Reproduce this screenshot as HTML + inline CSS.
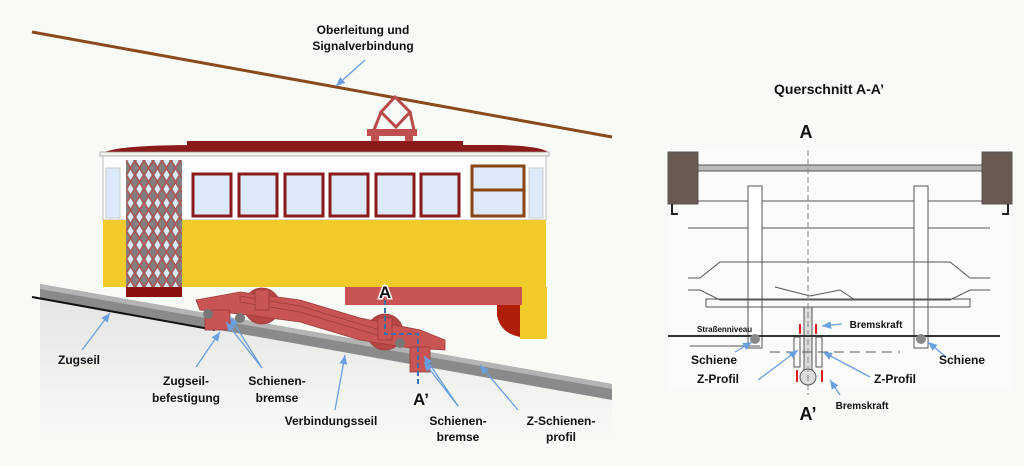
<!DOCTYPE html>
<html><head><meta charset="utf-8"><style>
html,body{margin:0;padding:0;background:#f7faf5;}
svg{display:block;}
text{font-family:"Liberation Sans","DejaVu Sans",sans-serif;font-weight:bold;fill:#111;}
</style></head><body>
<svg width="1024" height="466" viewBox="0 0 1024 466" xmlns="http://www.w3.org/2000/svg">
<defs>
<linearGradient id="gnd" x1="0" y1="0" x2="0" y2="1"><stop offset="0" stop-color="#dcdcdc"/><stop offset="1" stop-color="#f7faf5"/></linearGradient>
<marker id="ar" markerWidth="8" markerHeight="8" refX="7" refY="4" orient="auto"><path d="M0,1 L7,4 L0,7 z" fill="#6a9fe0"/></marker>
<pattern id="lat" width="9" height="14" patternUnits="userSpaceOnUse"><rect width="9" height="14" fill="#808080"/><path d="M4.5,2 L7.5,7 L4.5,12 L1.5,7 z" fill="#dbe9f8"/><path d="M4.5,0 L9,7 L4.5,14 L0,7 z" fill="none" stroke="#c04848" stroke-width="1.1"/></pattern>
</defs>
<rect width="1024" height="466" fill="#f7faf5"/>
<!-- ground -->
<path d="M40,292 L612,392 L612,440 L40,440 z" fill="url(#gnd)" opacity="0.7"/>
<!-- rail -->
<path d="M40,284 L612,384 L612,400 L40,298 z" fill="#8a8a8a"/>
<path d="M40,284 L612,384 L612,389 L40,289 z" fill="#b4b4b4"/>
<line x1="32" y1="297" x2="215" y2="330" stroke="#111" stroke-width="2"/>
<!-- overhead wire -->
<line x1="32" y1="32" x2="612" y2="137" stroke="#8b4a1c" stroke-width="3"/>
<!-- pantograph -->
<path d="M381,112 L395,97 L410,112 L396,127 z" fill="none" stroke="#b84a4a" stroke-width="3"/>
<path d="M381,112 L374,130 M410,112 L414,130" stroke="#b84a4a" stroke-width="3"/>
<rect x="367" y="129" width="50" height="7" fill="#c05050"/>
<rect x="371" y="136" width="8" height="9" fill="#c05050"/><rect x="405" y="136" width="8" height="9" fill="#c05050"/>
<!-- roof -->
<rect x="187" y="141" width="276" height="5" fill="#8b1a1a"/>
<path d="M105,152 Q120,145 200,145 L500,145 Q540,146 548,152 z" fill="#8b1a1a"/>
<rect x="100" y="152" width="449" height="4" fill="#f4f2ee" stroke="#999" stroke-width="0.7"/>
<!-- body -->
<rect x="103" y="156" width="443" height="64" fill="#fdfdfd" stroke="#aaa" stroke-width="0.8"/>
<rect x="103" y="220" width="443" height="67" fill="#f0cb2a"/>
<rect x="520" y="287" width="27" height="52" fill="#f0cb2a"/>
<rect x="345" y="287" width="177" height="18" fill="#c85454"/>
<path d="M497,305 L520,305 L520,337 Q500,333 497,315 z" fill="#b01e0a"/>
<rect x="106" y="168" width="14" height="50" fill="#dbe9f8" stroke="#ccc"/>
<rect x="529" y="168" width="14" height="50" fill="#dbe9f8" stroke="#ccc"/>
<rect x="126" y="160" width="56" height="137" fill="url(#lat)"/>
<rect x="126" y="287" width="56" height="10" fill="#8b1010"/>
<g fill="#dbe9f8" stroke="#8b1a1a" stroke-width="3">
<rect x="193" y="174" width="38" height="42"/>
<rect x="239" y="174" width="38" height="42"/>
<rect x="285" y="174" width="38" height="42"/>
<rect x="330" y="174" width="38" height="42"/>
<rect x="376" y="174" width="38" height="42"/>
<rect x="421" y="174" width="38" height="42"/>
</g>
<rect x="472" y="166" width="52" height="50" fill="#dbe9f8" stroke="#8b4513" stroke-width="3"/>
<line x1="472" y1="190" x2="524" y2="190" stroke="#8b4513" stroke-width="3"/>
<!-- bogie -->
<g fill="#c85454" stroke="#9c3a3a" stroke-width="0.8">
<circle cx="262" cy="306" r="18" fill="#b84646"/>
<circle cx="385" cy="332" r="18" fill="#b84646"/>
<path d="M196,300 L240,292 L300,300 L360,318 L420,330 L445,340 L445,350 L410,348 L360,340 L300,322 L240,314 L200,310 z"/>
<path d="M240,296 L300,306 L380,330 L380,336 L300,312 L240,302 z"/>
<rect x="205" y="310" width="25" height="20"/>
<rect x="410" y="347" width="20" height="25"/>
<rect x="255" y="290" width="14" height="20"/><rect x="378" y="318" width="14" height="22"/>
</g>
<circle cx="208" cy="314" r="5" fill="#777"/><circle cx="240" cy="318" r="5" fill="#777"/>
<circle cx="400" cy="343" r="5" fill="#777"/>
<path d="M385,300 V334 H418 V385" fill="none" stroke="#3a6fa8" stroke-width="2" stroke-dasharray="5,3"/>
<text x="385" y="298" font-size="17" text-anchor="middle" font-weight="normal" stroke="#fff" stroke-width="3" paint-order="stroke">A</text>
<text x="421" y="405" font-size="17" text-anchor="middle" font-weight="normal" stroke="#fff" stroke-width="3" paint-order="stroke">A’</text>
<g stroke="#6a9fe0" stroke-width="1.3" fill="none" marker-end="url(#ar)">
<line x1="365" y1="60" x2="336" y2="86"/>
<line x1="82" y1="350" x2="110" y2="313"/>
<line x1="196" y1="367" x2="220" y2="332"/>
<line x1="262" y1="368" x2="226" y2="322"/>
<line x1="262" y1="368" x2="230" y2="317"/>
<line x1="335" y1="410" x2="345" y2="355"/>
<line x1="458" y1="406" x2="424" y2="362"/>
<line x1="458" y1="406" x2="424" y2="356"/>
<line x1="518" y1="410" x2="480" y2="365"/>
</g>
<g font-size="12" text-anchor="middle">
<text x="363" y="34">Oberleitung und</text>
<text x="363" y="50">Signalverbindung</text>
<text x="79" y="364">Zugseil</text>
<text x="186" y="385">Zugseil-</text>
<text x="186" y="402">befestigung</text>
<text x="277" y="385">Schienen-</text>
<text x="277" y="402">bremse</text>
<text x="331" y="425">Verbindungsseil</text>
<text x="458" y="425">Schienen-</text>
<text x="458" y="441">bremse</text>
<text x="561" y="425">Z-Schienen-</text>
<text x="561" y="441">profil</text>
</g>
<!-- RIGHT -->
<text x="829" y="94" font-size="14" text-anchor="middle">Querschnitt A-A’</text>
<text x="806" y="138" font-size="18" text-anchor="middle" font-weight="normal">A</text>
<rect x="668" y="150" width="344" height="240" fill="#fbfbfa"/>
<g stroke="#555" stroke-width="1" fill="none">
<rect x="668" y="165" width="344" height="6" fill="#bbb"/>
<rect x="668" y="152" width="30" height="52" fill="#6a5a52"/>
<rect x="982" y="152" width="30" height="52" fill="#6a5a52"/>
<path d="M672,204 V214 H678 M1008,204 V214 H1002" stroke="#222" stroke-width="2"/>
<line x1="698" y1="201" x2="982" y2="201"/>
<line x1="688" y1="228" x2="990" y2="228"/>
<rect x="748" y="186" width="14" height="162" fill="#fff"/>
<rect x="914" y="186" width="14" height="162" fill="#fff"/>
<path d="M688,278 L700,278 L720,262 L950,262 L970,278 L990,278 M688,290 L700,290 L720,300 L950,300 L970,290 L990,290"/>
<rect x="706" y="299" width="264" height="8"/>
<path d="M775,287 L810,296 L840,290 L855,300"/>
<rect x="804" y="307" width="8" height="70" fill="#ddd"/>
<rect x="794" y="337" width="6" height="30"/><rect x="816" y="337" width="6" height="30"/>
<circle cx="808" cy="377" r="8" fill="#ddd"/>
<line x1="690" y1="346" x2="760" y2="346"/>
<line x1="770" y1="352" x2="900" y2="352" stroke-dasharray="10,6"/>
</g>
<line x1="668" y1="336" x2="1000" y2="336" stroke="#333" stroke-width="2"/>
<line x1="808" y1="150" x2="808" y2="395" stroke="#888" stroke-dasharray="6,3"/>
<circle cx="755" cy="339" r="5" fill="#888"/><circle cx="921" cy="339" r="5" fill="#888"/>
<g stroke="#e02020" stroke-width="2" fill="#e02020">
<line x1="800" y1="324" x2="800" y2="334"/><line x1="816" y1="324" x2="816" y2="334"/>
<line x1="797" y1="382" x2="797" y2="370"/><line x1="822" y1="382" x2="822" y2="370"/>
</g>
<g stroke="#6a9fe0" stroke-width="1.3" fill="none" marker-end="url(#ar)">
<line x1="842" y1="324" x2="822" y2="326"/>
<line x1="735" y1="352" x2="752" y2="342"/>
<line x1="946" y1="357" x2="928" y2="342"/>
<line x1="758" y1="380" x2="798" y2="350"/>
<line x1="870" y1="377" x2="823" y2="352"/>
<line x1="840" y1="395" x2="830" y2="380"/>
</g>
<g font-size="12" text-anchor="middle">
<text x="876" y="328" font-size="10">Bremskraft</text>
<text x="697" y="332" font-size="8" text-anchor="start">Straßenniveau</text>
<text x="714" y="364">Schiene</text>
<text x="962" y="364">Schiene</text>
<text x="718" y="383">Z-Profil</text>
<text x="895" y="383">Z-Profil</text>
<text x="862" y="409" font-size="10">Bremskraft</text>
</g>
<text x="808" y="420" font-size="18" text-anchor="middle" font-weight="normal">A’</text>
</svg>
</body></html>
